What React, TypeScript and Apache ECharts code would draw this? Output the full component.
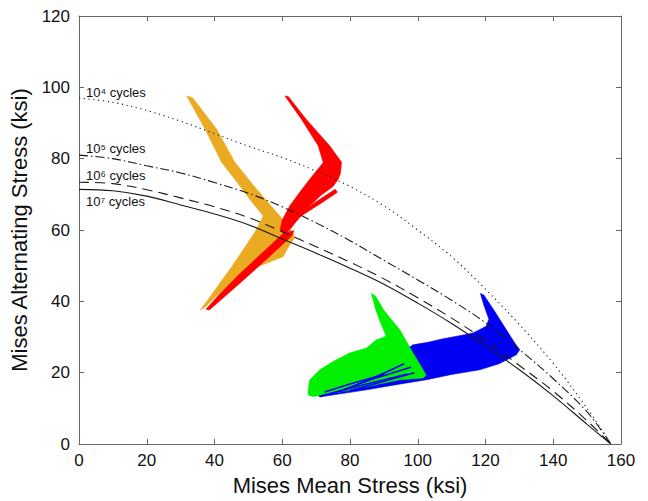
import React, { useEffect, useRef } from "react";
import * as echarts from "echarts";

// Fatigue curves (Mises mean stress vs alternating stress, ksi)
const curveX = [0, 10, 20, 30, 40, 50, 60, 70, 80, 90, 100, 110, 120, 130, 140, 150, 157];
const cycles4 = [97, 95.8, 93.5, 90.5, 87, 83.5, 80.3, 76.5, 72.2, 66.8, 60, 52.5, 43.4, 33.5, 22.6, 10, 0];
const cycles5 = [81, 80, 78, 76, 73.3, 70.3, 66.5, 62, 57, 51.5, 46, 40.3, 34, 26.5, 18.3, 9, 0];
const cycles6 = [73.4, 73, 71.3, 69, 66.5, 63.5, 59.5, 55.3, 51, 46.3, 41, 35.3, 29, 22, 14.8, 6.5, 0];
const cycles7 = [71.4, 71, 69.5, 67, 64.5, 61.5, 57.5, 53.5, 49.3, 44.8, 39.5, 33.8, 27.5, 20.8, 13.5, 5.5, 0];

const curveLabels = ["10⁴ cycles", "10⁵ cycles", "10⁶ cycles", "10⁷ cycles"];

// Stress-path envelopes (outline vertices, [mean, alternating])
const yellowBand = [
  [31.8, 97.6], [33.6, 97.0], [40.6, 88.3], [46.0, 79.0], [51.5, 72.5], [56.0, 67.5], [59.3, 63.9],
  [62.5, 59.8], [63.8, 58.0], [62.0, 55.5], [60.3, 52.6], [54.4, 50.3], [48.4, 48.0], [44.5, 44.7],
  [40.0, 41.0], [37.0, 38.2], [35.8, 37.6], [38.5, 41.0], [41.5, 45.0], [44.5, 48.9], [48.5, 54.5],
  [52.0, 59.5], [54.4, 63.9], [50.5, 68.5], [47.0, 73.0], [42.1, 79.0], [37.2, 88.3]
];
const redUpper = [
  [60.8, 97.6], [61.8, 97.4], [67.1, 91.0], [74.0, 83.6], [77.5, 79.0], [77.2, 76.0], [76.5, 74.2],
  [75.0, 72.2], [71.5, 69.8], [68.1, 66.7], [64.5, 62.8], [62.2, 60.1], [60.5, 58.8], [59.4, 60.1],
  [60.0, 62.8], [62.2, 66.7], [65.1, 70.5], [68.1, 74.2], [72.1, 78.9], [70.6, 83.6], [65.7, 91.0]
];
const redSpike = [
  [75.6, 71.4], [76.3, 70.6], [71.0, 67.2], [65.0, 63.6], [64.3, 64.0], [69.8, 67.8]
];
const redLower = [
  [63.5, 59.8], [62.8, 58.3], [55.0, 51.5], [48.0, 45.5], [42.0, 40.5], [38.5, 37.6], [37.5, 37.8],
  [41.0, 41.5], [47.0, 47.3], [54.0, 53.5], [60.5, 59.2]
];
const blueBand = [
  [118.5, 42.2], [119.5, 41.8], [122.5, 37.5], [125.5, 33.0], [128.5, 28.5], [130.1, 26.4], [129.1, 25.0],
  [128.1, 24.5], [124.0, 22.5], [118.3, 20.8], [110.0, 19.5], [102.5, 18.0], [94.0, 16.7], [84.9, 15.2],
  [78.0, 14.2], [71.1, 13.2], [70.5, 13.8], [76.0, 16.5], [83.0, 19.5], [89.8, 22.7], [95.0, 25.5],
  [98.6, 27.8], [103.0, 28.5], [107.5, 29.5], [112.0, 30.3], [116.3, 31.1], [120.2, 33.0], [121.0, 35.0],
  [119.5, 39.0]
];
const greenBand = [
  [86.3, 42.2], [87.5, 41.5], [90.0, 37.5], [94.7, 32.0], [98.6, 25.5], [100.5, 22.5], [102.5, 19.3],
  [101.5, 18.5], [94.7, 18.0], [84.9, 16.1], [75.0, 14.2], [69.1, 13.3], [67.8, 13.6], [67.6, 14.5],
  [68.1, 18.0], [71.1, 20.8], [75.0, 23.1], [79.9, 25.5], [84.9, 26.9], [87.8, 29.2], [90.7, 30.2],
  [89.0, 34.0], [87.5, 38.0]
];
// blue strands running through the lower green region
const blueStrands = [
  [[71.0, 13.4], [84.0, 16.6], [97.0, 19.6]],
  [[72.5, 14.6], [80.0, 16.8], [90.0, 19.5]],
  [[74.0, 13.8], [86.0, 18.0], [98.0, 21.5]],
  [[77.0, 14.6], [88.0, 19.0], [96.0, 22.5]],
  [[80.0, 15.0], [90.0, 17.6], [99.0, 20.0]],
];

const COLORS = {
  yellow: "#EAAA22",
  red: "#FF0000",
  green: "#00F000",
  blue: "#0000F5",
};
const FONT = "Liberation Sans, Arial, sans-serif";

function polygonSeries(points: number[][], color: string, z: number) {
  return {
    type: "custom",
    coordinateSystem: "cartesian2d",
    silent: true,
    z,
    data: [[points[0][0], points[0][1]]],
    renderItem: (_params: any, api: any) => ({
      type: "polygon",
      shape: { points: points.map((p) => api.coord(p)) },
      style: { fill: color, stroke: color, lineWidth: 0.6 },
    }),
  };
}

function strandSeries(lines: number[][][], color: string, z: number) {
  return {
    type: "custom",
    coordinateSystem: "cartesian2d",
    silent: true,
    z,
    data: lines.map((_l, i) => [lines[i][0][0], lines[i][0][1]]),
    renderItem: (params: any, api: any) => ({
      type: "polyline",
      shape: { points: lines[params.dataIndex].map((p) => api.coord(p)) },
      style: { fill: "none", stroke: color, lineWidth: 1.5 },
    }),
  };
}

function curveSeries(values: number[], dash: any) {
  return {
    type: "line",
    data: curveX.map((x, i) => [x, values[i]]),
    smooth: 0.35,
    showSymbol: false,
    silent: true,
    z: 10,
    lineStyle: { color: "#1a1a1a", width: 1.1, type: dash },
  };
}

export default function App() {
  const ref = useRef<HTMLDivElement>(null);
  useEffect(() => {
    if (!ref.current) return;
    const chart = echarts.init(ref.current, undefined, { renderer: "svg" });
    const axisCommon = {
      type: "value",
      interval: 20,
      axisLine: { show: true, onZero: false, lineStyle: { color: "#666", width: 1 } },
      axisTick: { show: true, inside: true, length: 5, lineStyle: { color: "#666" } },
      splitLine: { show: false },
    };
    const textLabel = (i: number, top: number) => ({
      type: "text",
      left: 86,
      top,
      silent: true,
      style: { text: curveLabels[i], fontSize: 13, fontFamily: FONT, fill: "#111" },
    });
    chart.setOption({
      animation: false,
      backgroundColor: "#fff",
      grid: { left: 79, right: 27, top: 16, bottom: 49, show: false },
      xAxis: [
        {
          ...axisCommon,
          min: 0,
          max: 160,
          name: "Mises Mean Stress (ksi)",
          nameLocation: "middle",
          nameGap: 30,
          nameTextStyle: { fontSize: 22, color: "#111", fontFamily: FONT },
          axisLabel: { fontSize: 17, color: "#111", margin: 8, fontFamily: FONT },
        },
        {
          ...axisCommon,
          min: 0,
          max: 160,
          position: "top",
          axisLabel: { show: false },
        },
      ],
      yAxis: [
        {
          ...axisCommon,
          min: 0,
          max: 120,
          name: "Mises Alternating Stress (ksi)",
          nameLocation: "middle",
          nameGap: 42,
          nameTextStyle: { fontSize: 22, color: "#111", fontFamily: FONT },
          axisLabel: { fontSize: 17, color: "#111", margin: 9, fontFamily: FONT },
        },
        {
          ...axisCommon,
          min: 0,
          max: 120,
          position: "right",
          axisLabel: { show: false },
        },
      ],
      series: [
        polygonSeries(yellowBand, COLORS.yellow, 2),
        polygonSeries(redUpper, COLORS.red, 3),
        polygonSeries(redSpike, COLORS.red, 3),
        polygonSeries(redLower, COLORS.red, 3),
        polygonSeries(blueBand, COLORS.blue, 2),
        polygonSeries(greenBand, COLORS.green, 3),
        strandSeries(blueStrands, COLORS.blue, 4),
        curveSeries(cycles4, [1.2, 3.6]),
        curveSeries(cycles5, [9, 3, 1.5, 3]),
        curveSeries(cycles6, [10, 6]),
        curveSeries(cycles7, "solid"),
      ],
      graphic: [textLabel(0, 86), textLabel(1, 142), textLabel(2, 169), textLabel(3, 195)],
    });
    return () => chart.dispose();
  }, []);
  return (
    <div
      ref={ref}
      style={{ position: "fixed", left: 0, top: 0, width: 648, height: 501, background: "#fff" }}
    />
  );
}
